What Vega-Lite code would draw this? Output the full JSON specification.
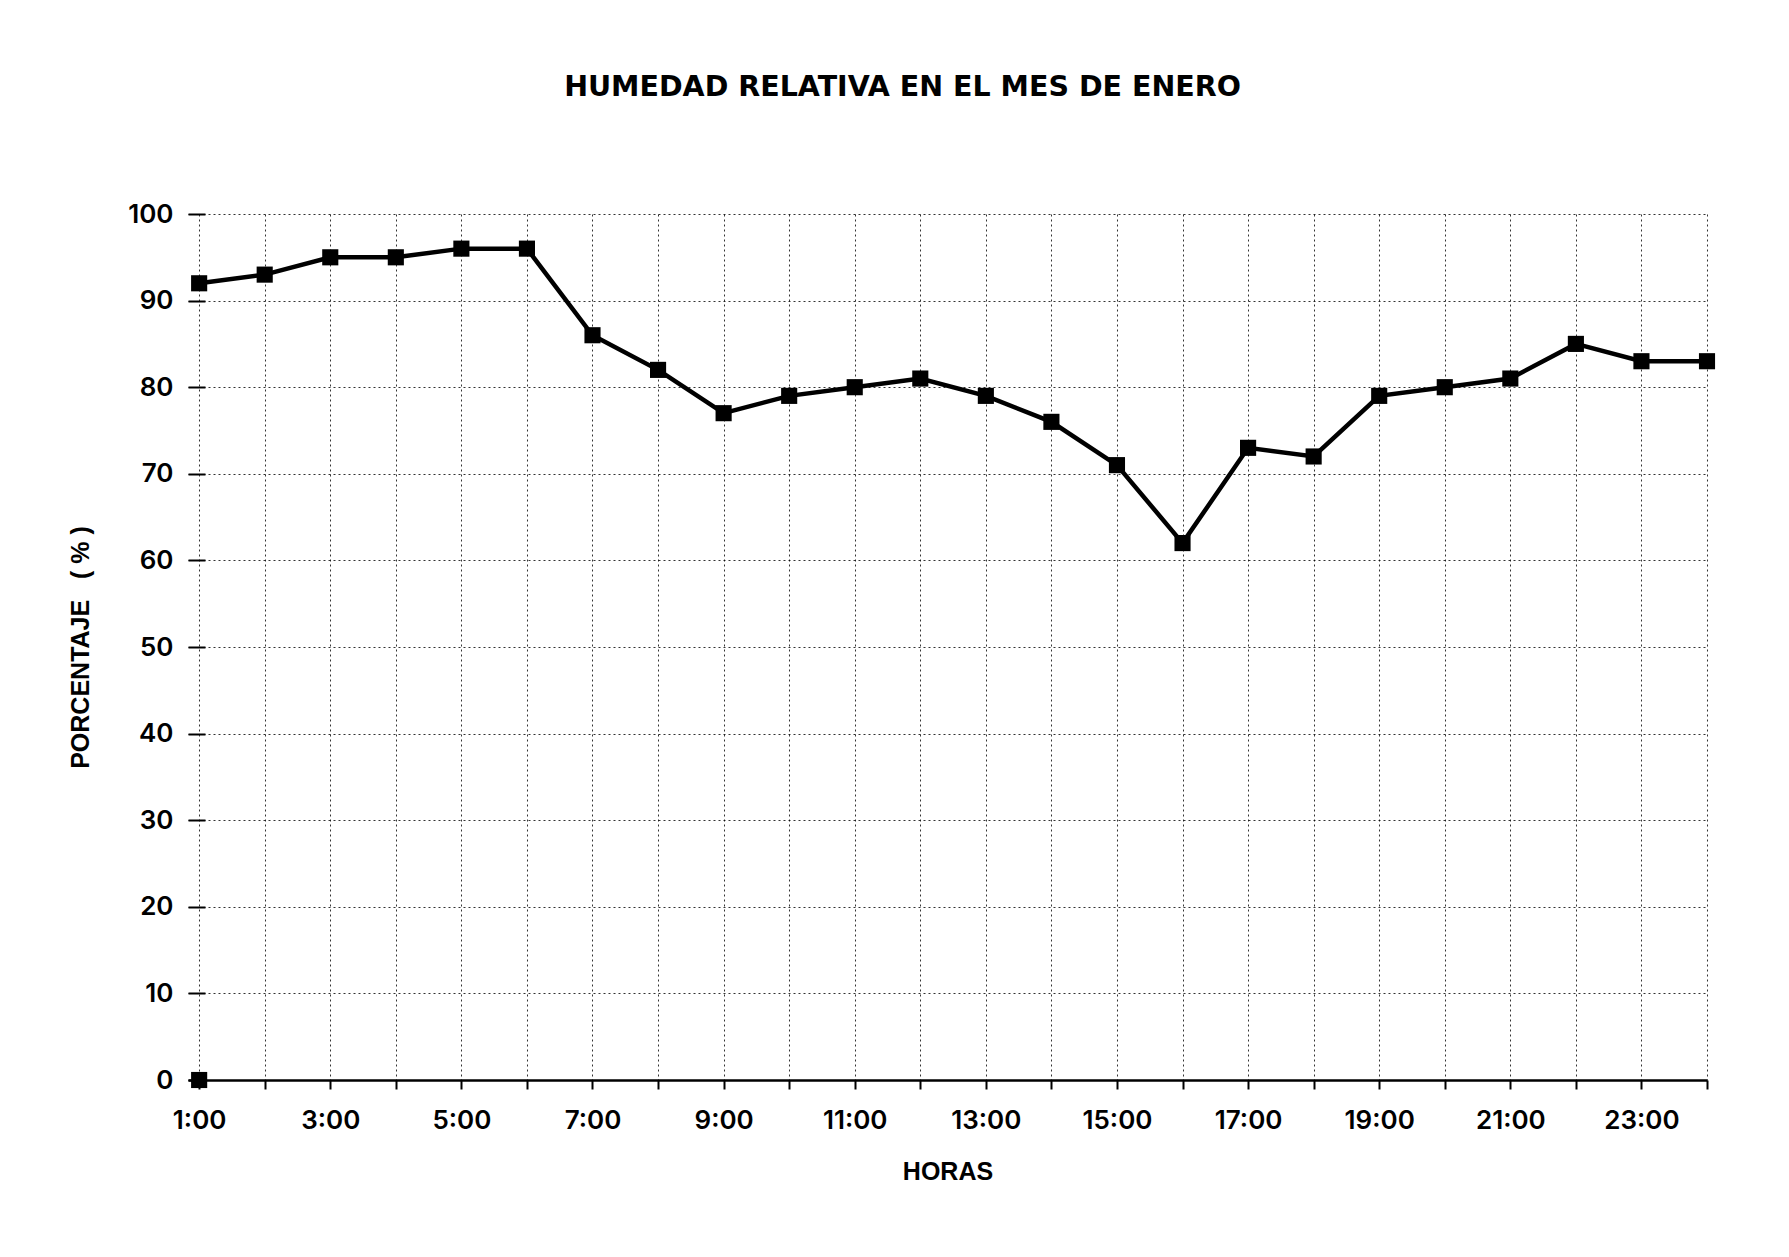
{
  "$schema": "https://vega.github.io/schema/vega-lite/v6.json",
  "autosize": {"type": "none"},
  "width": 1519,
  "height": 866,
  "padding": {"left": 188, "top": 214, "right": 82, "bottom": 177},
  "background": "white",
  "title": {
    "text": "HUMEDAD RELATIVA EN EL MES DE ENERO",
    "font": "DejaVu Sans",
    "fontSize": 28.5,
    "fontWeight": "bold",
    "color": "black",
    "anchor": "middle",
    "dx": -45,
    "offset": 100
  },
  "config": {
    "view": {"stroke": null},
    "axis": {
      "labelFont": "Inter",
      "labelFontSize": 26,
      "labelFontWeight": 600,
      "labelColor": "black",
      "titleFont": "Liberation Sans",
      "titleFontSize": 25,
      "titleFontWeight": "bold",
      "titleColor": "black",
      "gridColor": "black",
      "gridDash": [2, 3],
      "gridWidth": 1,
      "gridOpacity": 0.8,
      "tickColor": "black",
      "domainColor": "black"
    }
  },
  "data": {
    "values": [
      {"hora": 1, "humedad": 92, "serie": "Humedad"},
      {"hora": 2, "humedad": 93, "serie": "Humedad"},
      {"hora": 3, "humedad": 95, "serie": "Humedad"},
      {"hora": 4, "humedad": 95, "serie": "Humedad"},
      {"hora": 5, "humedad": 96, "serie": "Humedad"},
      {"hora": 6, "humedad": 96, "serie": "Humedad"},
      {"hora": 7, "humedad": 86, "serie": "Humedad"},
      {"hora": 8, "humedad": 82, "serie": "Humedad"},
      {"hora": 9, "humedad": 77, "serie": "Humedad"},
      {"hora": 10, "humedad": 79, "serie": "Humedad"},
      {"hora": 11, "humedad": 80, "serie": "Humedad"},
      {"hora": 12, "humedad": 81, "serie": "Humedad"},
      {"hora": 13, "humedad": 79, "serie": "Humedad"},
      {"hora": 14, "humedad": 76, "serie": "Humedad"},
      {"hora": 15, "humedad": 71, "serie": "Humedad"},
      {"hora": 16, "humedad": 62, "serie": "Humedad"},
      {"hora": 17, "humedad": 73, "serie": "Humedad"},
      {"hora": 18, "humedad": 72, "serie": "Humedad"},
      {"hora": 19, "humedad": 79, "serie": "Humedad"},
      {"hora": 20, "humedad": 80, "serie": "Humedad"},
      {"hora": 21, "humedad": 81, "serie": "Humedad"},
      {"hora": 22, "humedad": 85, "serie": "Humedad"},
      {"hora": 23, "humedad": 83, "serie": "Humedad"},
      {"hora": 24, "humedad": 83, "serie": "Humedad"},
      {"hora": 1, "humedad": 0, "serie": "Cero"}
    ]
  },
  "encoding": {
    "x": {
      "field": "hora",
      "type": "quantitative",
      "scale": {"domain": [0.83, 24], "nice": false, "zero": false},
      "axis": {
        "title": "HORAS",
        "values": [1,2,3,4,5,6,7,8,9,10,11,12,13,14,15,16,17,18,19,20,21,22,23,24],
        "labelExpr": "datum.value % 2 == 1 ? datum.value + ':00' : ''",
        "labelFlush": false,
        "labelOverlap": false,
        "tickSize": 9,
        "tickWidth": 2,
        "domainWidth": 2.5,
        "labelPadding": 18,
        "titlePadding": 26,
        "grid": true
      }
    },
    "y": {
      "field": "humedad",
      "type": "quantitative",
      "scale": {"domain": [0, 100], "nice": false},
      "axis": {
        "title": "PORCENTAJE\u00a0\u00a0\u00a0(\u00a0%\u00a0)",
        "values": [0,10,20,30,40,50,60,70,80,90,100],
        "domain": false,
        "offset": -17,
        "tickSize": 17,
        "tickWidth": 2,
        "labelPadding": 15,
        "titlePadding": 34,
        "grid": true
      }
    }
  },
  "layer": [
    {
      "transform": [{"filter": "datum.serie == 'Humedad'"}],
      "mark": {"type": "line", "color": "black", "strokeWidth": 4.5}
    },
    {
      "mark": {"type": "point", "shape": "square", "filled": true, "color": "black", "size": 260, "opacity": 1}
    }
  ]
}
